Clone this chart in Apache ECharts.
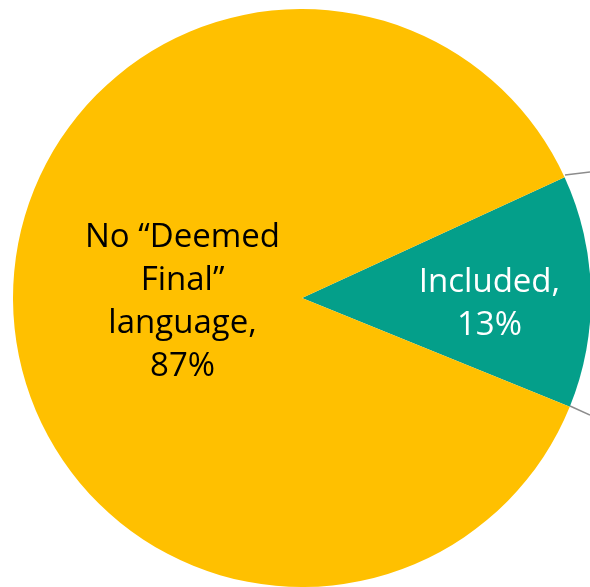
<!DOCTYPE html>
<html>
<head>
<meta charset="utf-8">
<script src="https://cdn.jsdelivr.net/npm/echarts@6/dist/echarts.min.js"></script>
<style>
  html, body { margin: 0; padding: 0; background: #fff; }
  #main { width: 590px; height: 587px; }
</style>
</head>
<body>
<div id="main"></div>
<script>
// slice names (line breaks as in the slide) and shares in percent
var categories = ['Included', 'No \u201cDeemed\nFinal\u201d\nlanguage']
var shares = [13, 87]
var colors = ['#049F8A', '#FFC000']
var labelColors = ['#ffffff', '#000000']

var main = document.getElementById('main')
var chart = echarts.init(main)

var option = {
  animation: false,
  series: [{
    type: 'pie',
    center: [302, 298],
    radius: 289,
    startAngle: 24.7,
    clockwise: true,
    silent: true,
    label: {
      show: true,
      position: 'inside',
      fontFamily: 'Open Sans',
      fontSize: 33,
      lineHeight: 43,
      align: 'center',
      formatter: function (p) { return p.name + ',\n' + p.value + '%' }
    },
    labelLine: { show: false },
    data: categories.map(function (name, i) {
      return {
        name: name,
        value: shares[i],
        itemStyle: { color: colors[i] },
        label: { color: labelColors[i], offset: i === 0 ? [40, 9] : [28, 1] }
      }
    })
  }],
  graphic: [
    { type: 'line', shape: { x1: 565, y1: 175, x2: 590, y2: 172 }, style: { stroke: '#8c8c8c', lineWidth: 1.5 } },
    { type: 'line', shape: { x1: 570, y1: 406, x2: 590, y2: 415 }, style: { stroke: '#8c8c8c', lineWidth: 1.5 } }
  ]
}
chart.setOption(option)
</script>
</body>
</html>
